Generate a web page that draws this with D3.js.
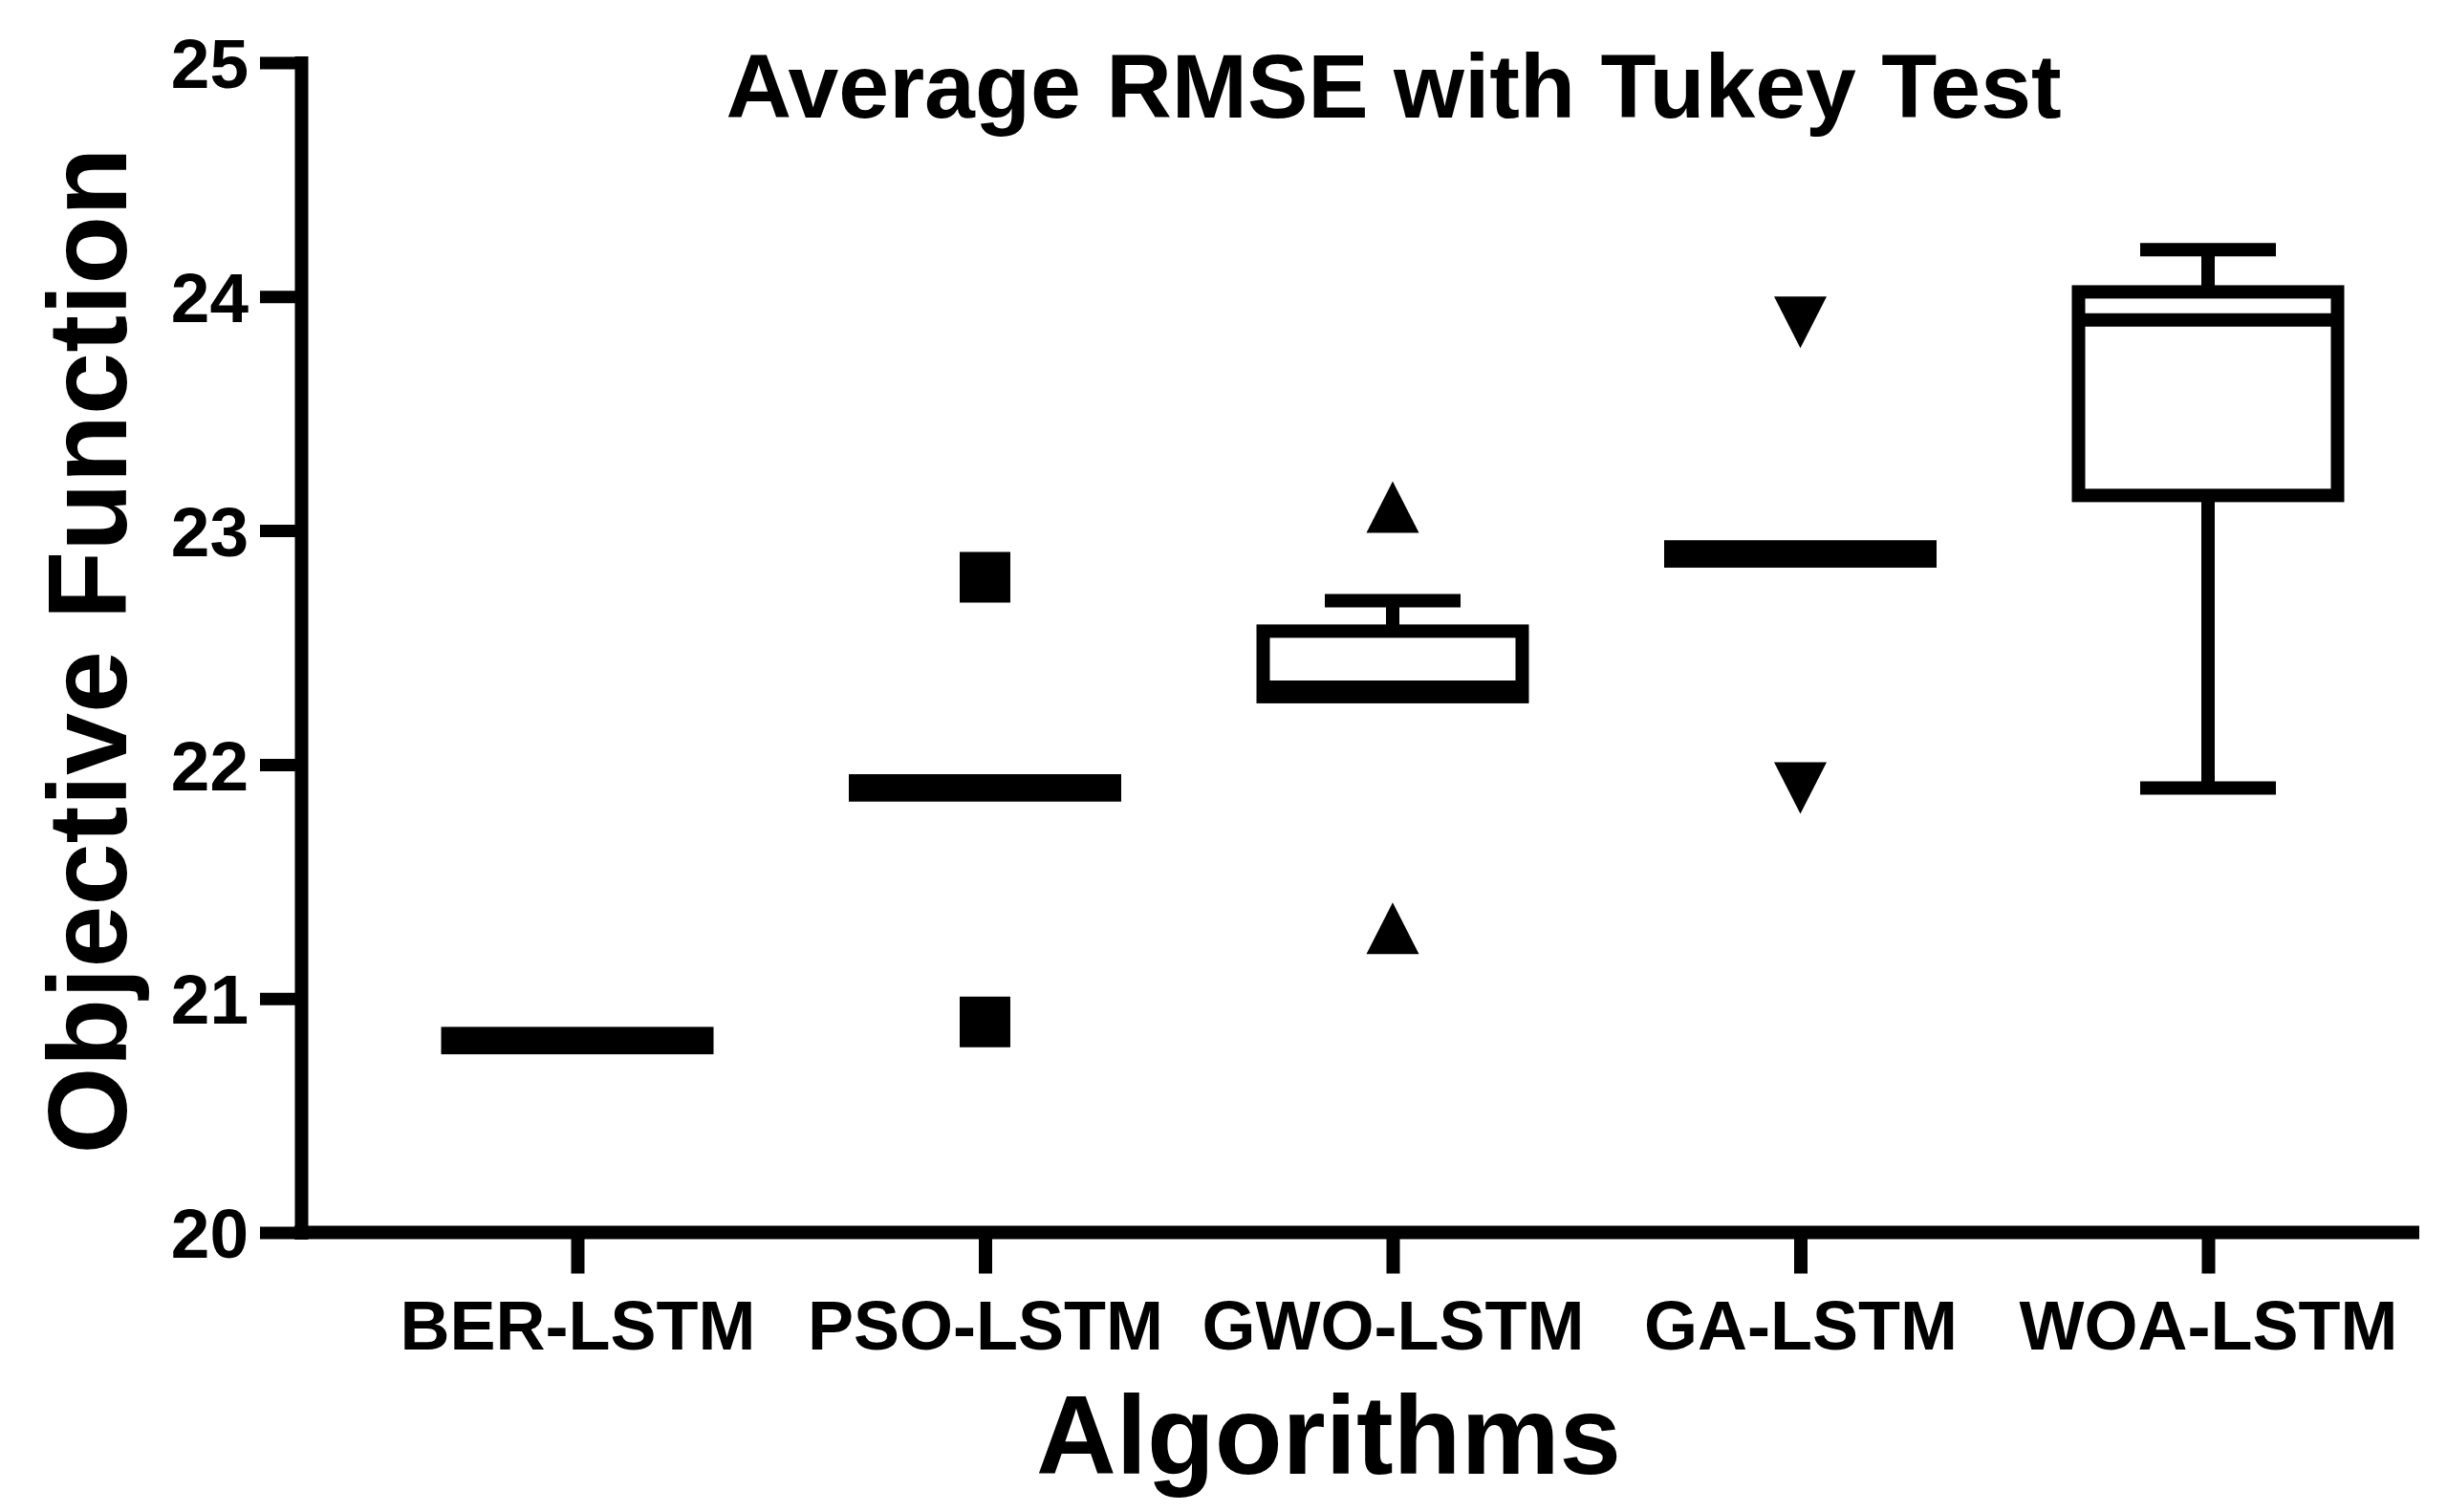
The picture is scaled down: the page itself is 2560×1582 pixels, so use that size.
<!DOCTYPE html>
<html>
<head>
<meta charset="utf-8">
<script src="https://cdn.jsdelivr.net/npm/d3@7"></script>
<style>
  html, body { margin: 0; padding: 0; background: #fff; }
  svg { display: block; }
  text { font-family: "Liberation Sans", Arial, sans-serif; font-weight: bold; fill: #000; }
</style>
</head>
<body>
<svg id="chart" width="2560" height="1582"></svg>
<script>
// ---- Data ----
const categories = ["BER-LSTM", "PSO-LSTM", "GWO-LSTM", "GA-LSTM", "WOA-LSTM"];
const q1Values = [20.79, 21.87, 22.29, 22.87, 23.15];
const medianValues = [20.82, 21.90, 22.33, 22.90, 23.90];
const q3Values = [20.85, 21.93, 22.57, 22.93, 24.02];
const whiskerLow = [20.79, 21.87, 22.29, 22.87, 21.90];
const whiskerHigh = [20.85, 21.93, 22.70, 22.93, 24.20];
const outlierValues = [[], [22.80, 20.90], [23.10, 21.30], [23.89, 21.90], []];
const outlierShapes = ["square", "square", "triangleUp", "triangleDown", "square"];
const yTicks = [20, 21, 22, 23, 24, 25];
const titleText = "Average RMSE with Tukey Test";
const xTitle = "Algorithms";
const yTitle = "Objective Function";

// ---- Layout ----
const W = 2560, H = 1582;
const axisX = 315, axisY = 1289.5, yTop = 65.5, xRight = 2531;
const firstCat = 604, lastCat = 2310;
const stroke = 14;
const boxHalf = 135.5, capHalf = 71, markerHalf = 27;

const svg = d3.select("#chart");
svg.append("rect").attr("width", W).attr("height", H).attr("fill", "#fff");

const y = d3.scaleLinear().domain([20, 25]).range([axisY, yTop]);
const x = d3.scalePoint().domain(categories).range([firstCat, lastCat]);

// ---- Y axis ----
const yAxis = svg.append("g").attr("transform", `translate(${axisX},0)`)
  .call(d3.axisLeft(y).tickValues(yTicks).tickSize(43).tickSizeOuter(0).tickPadding(12).tickFormat(d3.format("d")));
yAxis.select(".domain").attr("stroke", "#000").attr("stroke-width", stroke).attr("stroke-linecap", "square");
yAxis.selectAll(".tick line").attr("stroke", "#000").attr("stroke-width", 13);
yAxis.selectAll(".tick text").attr("x", -55).attr("dy", "0.36em")
  .style("font-size", "73px").style("font-family", "'Liberation Sans', Arial, sans-serif").style("font-weight", "bold").attr("fill", "#000");

// ---- X axis ----
const xAxis = svg.append("g").attr("transform", `translate(0,${axisY})`)
  .call(d3.axisBottom(x).tickSize(43).tickSizeOuter(0));
xAxis.select(".domain").remove();
xAxis.insert("line", ":first-child")
  .attr("x1", axisX - stroke / 2).attr("x2", xRight).attr("y1", 0).attr("y2", 0)
  .attr("stroke", "#000").attr("stroke-width", stroke);
xAxis.selectAll(".tick line").attr("stroke", "#000").attr("stroke-width", 14);
xAxis.selectAll(".tick text").attr("y", 122.5).attr("dy", 0)
  .style("font-size", "72px").style("font-family", "'Liberation Sans', Arial, sans-serif").style("font-weight", "bold").attr("fill", "#000");

// ---- Box plots ----
const boxes = categories.map((c, i) => ({
  c, q1: q1Values[i], med: medianValues[i], q3: q3Values[i],
  lo: whiskerLow[i], hi: whiskerHigh[i], out: outlierValues[i], shape: outlierShapes[i]
}));

const g = svg.append("g");
boxes.forEach(b => {
  const cx = x(b.c);
  // whiskers
  if (b.hi > b.q3) {
    g.append("line").attr("x1", cx).attr("x2", cx).attr("y1", y(b.q3)).attr("y2", y(b.hi))
      .attr("stroke", "#000").attr("stroke-width", stroke);
    g.append("line").attr("x1", cx - capHalf).attr("x2", cx + capHalf).attr("y1", y(b.hi)).attr("y2", y(b.hi))
      .attr("stroke", "#000").attr("stroke-width", stroke);
  }
  if (b.lo < b.q1) {
    g.append("line").attr("x1", cx).attr("x2", cx).attr("y1", y(b.q1)).attr("y2", y(b.lo))
      .attr("stroke", "#000").attr("stroke-width", stroke);
    g.append("line").attr("x1", cx - capHalf).attr("x2", cx + capHalf).attr("y1", y(b.lo)).attr("y2", y(b.lo))
      .attr("stroke", "#000").attr("stroke-width", stroke);
  }
  // box
  g.append("rect").attr("x", cx - boxHalf).attr("width", boxHalf * 2)
    .attr("y", y(b.q3)).attr("height", y(b.q1) - y(b.q3))
    .attr("fill", "#fff").attr("stroke", "#000").attr("stroke-width", stroke);
  // median
  g.append("line").attr("x1", cx - boxHalf).attr("x2", cx + boxHalf)
    .attr("y1", y(b.med)).attr("y2", y(b.med))
    .attr("stroke", "#000").attr("stroke-width", stroke);
  // outliers
  b.out.forEach(v => {
    const py = y(v);
    let d;
    if (b.shape === "square") {
      d = `M${cx - 26.5},${py - 26.5}h53v53h-53Z`;
    } else if (b.shape === "triangleUp") {
      d = `M${cx},${py - markerHalf}L${cx + 27.5},${py + markerHalf}L${cx - 27.5},${py + markerHalf}Z`;
    } else {
      d = `M${cx - 27.5},${py - markerHalf}L${cx + 27.5},${py - markerHalf}L${cx},${py + markerHalf}Z`;
    }
    g.append("path").attr("d", d).attr("fill", "#000");
  });
});

// ---- Titles ----
svg.append("text").attr("x", 1458).attr("y", 123).attr("text-anchor", "middle")
  .style("font-size", "95px").text(titleText);
svg.append("text").attr("x", 1390).attr("y", 1542).attr("text-anchor", "middle")
  .style("font-size", "116px").text(xTitle);
svg.append("text").attr("transform", "translate(132,681) rotate(-90)").attr("text-anchor", "middle")
  .style("font-size", "117px").text(yTitle);
</script>
</body>
</html>
